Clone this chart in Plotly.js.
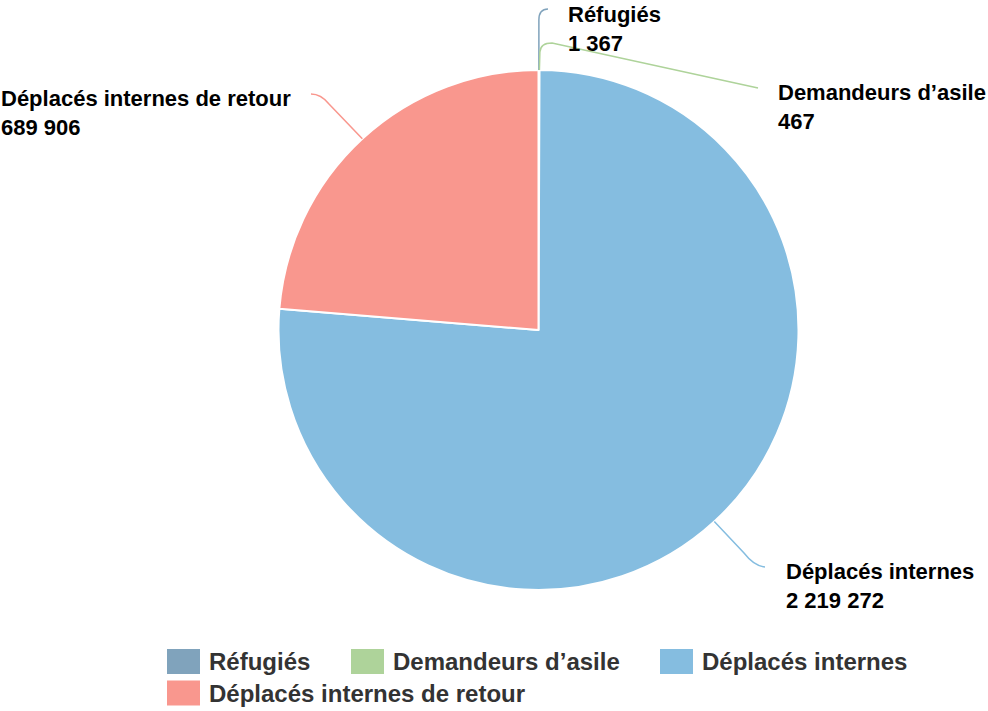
<!DOCTYPE html>
<html>
<head>
<meta charset="utf-8">
<script src="https://cdn.plot.ly/plotly-3.0.1.min.js"></script>
<style>html,body{margin:0;padding:0;background:#fff;}#chart{width:988px;height:711px;}</style>
</head>
<body>
<div id="chart"></div>
<script>
// ---- data ----
const categories = ['Réfugiés', 'Demandeurs d’asile', 'Déplacés internes', 'Déplacés internes de retour'];
const values = [1367, 467, 2219272, 689906];
const colors = ['#80a3bc', '#aed39a', '#85bde0', '#f9978e'];

// ---- layout constants ----
const W = 988, H = 711;
const cx = 538.5, cy = 330, R = 260;
const FONT = 'Liberation Sans, Arial, Helvetica, sans-serif';
const X = px => px / W;
const Y = py => 1 - py / H;
const PAD = 3; // annotation inner padding compensation

function fmt(v) {
  return String(v).replace(/\B(?=(\d{3})+(?!\d))/g, ' ');
}

// label placement (left edge x, vertical middle y) and leader-line bends
const labelPos = [[569, 29], [779, 107], [787, 586], [2, 113]];
// leader path after anchor: B (line), C (quad control), D (quad end), optional E (line)
const leaderBends = [
  a => [[a[0], 20], [a[0], 9], [548, 9]],
  a => [[a[0] + 0.5, 52], [a[0] + 1, 43], [552, 43], [758, 88]],
  a => [[744, 553], [754, 566], [765, 567]],
  a => [[329, 104], [321, 94], [311, 94]]
];

// anchors on the pie edge computed from the data (clockwise from 12 o'clock)
const total = values.reduce((s, v) => s + v, 0);
let cum = 0;
const anchors = values.map(v => {
  const mid = (cum + v / 2) / total * 2 * Math.PI;
  cum += v;
  return [cx + R * Math.sin(mid), cy - R * Math.cos(mid)];
});

const shapes = [];
const annotations = [];
anchors.forEach((a, i) => {
  const pts = leaderBends[i](a);
  let p = `M ${X(a[0])} ${Y(a[1])} L ${X(pts[0][0])} ${Y(pts[0][1])} Q ${X(pts[1][0])} ${Y(pts[1][1])} ${X(pts[2][0])} ${Y(pts[2][1])}`;
  if (pts[3]) p += ` L ${X(pts[3][0])} ${Y(pts[3][1])}`;
  shapes.push({type: 'path', xref: 'paper', yref: 'paper', path: p,
    line: {color: colors[i], width: 1.5}, layer: 'above'});
  annotations.push({
    xref: 'paper', yref: 'paper', x: X(labelPos[i][0] - PAD), y: Y(labelPos[i][1]),
    xanchor: 'left', yanchor: 'middle', align: 'left', showarrow: false,
    text: '<b>' + categories[i] + '<br>' + fmt(values[i]) + '</b>',
    font: {family: FONT, size: 22, color: '#000'}
  });
});

// custom legend
const legendItems = [[167, 661.5], [351, 661.5], [660, 661.5], [167, 693]];
categories.forEach((c, i) => {
  const [lx, ly] = legendItems[i];
  shapes.push({type: 'rect', xref: 'paper', yref: 'paper',
    x0: X(lx), x1: X(lx + 33), y0: Y(ly - 12.5), y1: Y(ly + 12.5),
    fillcolor: colors[i], line: {width: 0}});
  annotations.push({
    xref: 'paper', yref: 'paper', x: X(lx + 43 - PAD), y: Y(ly),
    xanchor: 'left', yanchor: 'middle', showarrow: false,
    text: '<b>' + c + '</b>',
    font: {family: FONT, size: 24, color: '#333'}
  });
});

const trace = {
  type: 'pie',
  labels: categories,
  values: values,
  sort: false,
  direction: 'clockwise',
  rotation: 0,
  marker: {colors: colors, line: {color: '#fff', width: 2}},
  textinfo: 'none',
  hoverinfo: 'label+value',
  showlegend: false,
  automargin: false,
  domain: {x: [X(cx - R), X(cx + R)], y: [Y(cy + R), Y(cy - R)]}
};

const layout = {
  width: W, height: H,
  margin: {l: 0, r: 0, t: 0, b: 0},
  paper_bgcolor: '#fff',
  showlegend: false,
  shapes: shapes,
  annotations: annotations
};

Plotly.newPlot('chart', [trace], layout, {displayModeBar: false, staticPlot: true});
</script>
</body>
</html>
